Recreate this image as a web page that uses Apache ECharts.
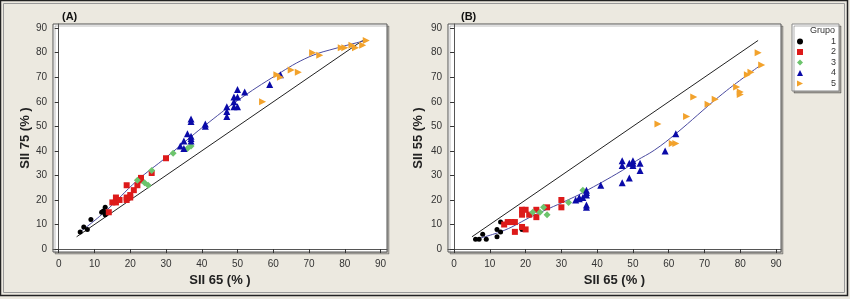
<!DOCTYPE html>
<html><head><meta charset="utf-8">
<script src="https://cdn.jsdelivr.net/npm/echarts@6/dist/echarts.min.js"></script>
<style>html,body{margin:0;padding:0;background:#ECE9E0}#c{width:850px;height:299px}</style>
</head><body><div id="c"></div>
<script>
const ticks = [0,10,20,30,40,50,60,70,80,90];
const groupNames = ['1','2','3','4','5'];
const groupColors = ['#000000','#DD1A1A','#6CC46C','#0A0AA8','#F2A22C'];
const groupSymbols = ['circle','rect','diamond','triangle','path://M0,0L10,5L0,10Z'];
const groupSizes = [5,6,7,7,7];

// Panel A: SII 65 vs SII 75
const a1 = [[6,7],[7,9],[8,8],[9,12],[12,15],[13,17],[13,15],[13,14],[12.5,15.5]];
const a2 = [[14,15],[15,19],[16,19],[16,21],[17,20],[19,26],[19,20],[19,21],[20,21],[20,22],[21,24],[22,26],[23,29],[23,28],[26,31],[30,37]];
const a3 = [[22,28],[24,27],[25,26],[26,32],[32,39],[36,41],[37,42]];
const a4 = [[34,42],[35,41],[35,44],[37,44],[37,45],[37,46],[36,47],[37,52],[37,53],[41,51],[41,50],[47,54],[47,56],[47,58],[49,58],[50,58],[49,60],[49,62],[50,62],[50,65],[52,64],[59,67],[62,71]];
const a5 = [[57,60],[61,71],[62,70],[65,73],[67,72],[71,80],[73,79],[79,82],[80,82],[82,83],[83,82],[85,83],[86,85]];
const aFit = [[6,7],[13,15.3],[22,28],[30,37.3],[37,45.8],[41,50.5],[50,60.5],[61,71],[70,78.3],[78,82],[86,85]];
const aIdentity = [[5,5],[85,85]];

// Panel B: SII 65 vs SII 55
const b1 = [[6,4],[7,4],[8,6],[9,4],[12,8],[13,7],[12,5],[13,11],[19,8]];
const b2 = [[14,10],[15,11],[16,11],[17,11],[17,7],[19,16],[20,16],[19,14],[19,9],[20,8],[21,14],[23,16],[23,13],[26,17],[30,20],[30,17]];
const b3 = [[22,15],[24,15],[25,17],[26,14],[32,19],[36,24]];
const b4 = [[34,20],[35,21],[35,20.5],[36,21],[37,24],[37,23],[37,22],[37,18],[37,17],[41,26],[47,36],[47,34],[47,27],[49,35],[49,29],[50,36],[50,35],[50,34],[52,35],[52,32],[59,40],[62,47]];
const b5 = [[57,51],[61,43],[62,43],[65,54],[67,62],[71,59],[73,61],[79,66],[80,64],[80,63],[82,71],[83,72],[85,80],[86,75]];
const bFit = [[6,4],[14,7.6],[22,13.5],[31.5,19.8],[36,23],[47,32],[51,36],[56,40.3],[62,47],[74,62],[82,71],[86,75.2]];
const bIdentity = [[5,5],[85,85]];

const xTitle = 'SII 65 (% )';
const yTitleA = 'SII 75 (% )';
const yTitleB = 'SII 55 (% )';
const panelTitles = ['(A)','(B)'];
const legendTitle = 'Grupo';

const FONT = 'Liberation Sans';
function xAx(gi, min, max){
  return {type:'value', gridIndex:gi, min:min, max:max,
    axisLine:{show:true, lineStyle:{color:'#555', width:1}},
    axisTick:{show:true, length:4, inside:false, customValues:ticks, lineStyle:{color:'#333'}},
    axisLabel:{customValues:ticks, fontSize:10, color:'#333', margin:7, fontFamily:FONT},
    splitLine:{show:false},
    name:xTitle, nameLocation:'middle', nameGap:19,
    nameTextStyle:{fontSize:13, fontWeight:'bold', color:'#222', fontFamily:FONT}};
}
function yAx(gi, min, max, name, gap){
  return {type:'value', gridIndex:gi, min:min, max:max,
    axisLine:{show:true, lineStyle:{color:'#555', width:1}},
    axisTick:{show:true, length:4, inside:false, customValues:ticks, lineStyle:{color:'#333'}},
    axisLabel:{customValues:ticks, fontSize:10, color:'#333', margin:6, fontFamily:FONT},
    splitLine:{show:false},
    name:name, nameLocation:'middle', nameGap:gap,
    nameTextStyle:{fontSize:13, fontWeight:'bold', color:'#222', fontFamily:FONT}};
}
const series = [];
function addPanel(gi, groups, fit, ident){
  series.push({type:'line', xAxisIndex:gi, yAxisIndex:gi, data:ident, showSymbol:false, symbol:'none',
    lineStyle:{color:'#222', width:1}, z:2, silent:true});
  series.push({type:'line', xAxisIndex:gi, yAxisIndex:gi, data:fit, showSymbol:false, symbol:'none', smooth:0.4,
    lineStyle:{color:'#4A4AA0', width:1}, z:2, silent:true});
  groups.forEach((g,i)=>{
    series.push({type:'scatter', name:groupNames[i], xAxisIndex:gi, yAxisIndex:gi, data:g,
      symbol:groupSymbols[i], symbolSize:groupSizes[i], itemStyle:{color:groupColors[i], opacity:1}, z:3});
  });
}
addPanel(0,[a1,a2,a3,a4,a5],aFit,aIdentity);
addPanel(1,[b1,b2,b3,b4,b5],bFit,bIdentity);

const chart = echarts.init(document.getElementById('c'), null, {renderer:'canvas'});
chart.setOption({
  backgroundColor:'#ECE9E0',
  animation:false,
  textStyle:{fontFamily:FONT},
  title:[
    {text:panelTitles[0], left:62, top:11, textStyle:{fontSize:11, fontWeight:'bold', color:'#111', fontFamily:FONT}, padding:0},
    {text:panelTitles[1], left:461, top:11, textStyle:{fontSize:11, fontWeight:'bold', color:'#111', fontFamily:FONT}, padding:0},
    {text:legendTitle, left:810, top:26, textStyle:{fontSize:9, fontWeight:'normal', color:'#333', fontFamily:FONT}, padding:0, z:10}
  ],
  legend:{data:groupNames, orient:'vertical', left:792, top:24, padding:[13,3,3,5], itemGap:1.5,
    itemWidth:6, itemHeight:6, backgroundColor:'#fff', borderColor:'#888', borderWidth:1,
    shadowColor:'rgba(0,0,0,0.3)', shadowOffsetX:2, shadowOffsetY:2, shadowBlur:0,
    formatter:'{a|{name}}',
    textStyle:{fontSize:9, color:'#333', fontFamily:FONT, rich:{a:{width:28, align:'right', fontSize:9, color:'#333', fontFamily:FONT}}},
    selectedMode:false},
  grid:[
    {left:53, top:24, width:334, height:228, show:true, backgroundColor:'#fff', borderColor:'#555', borderWidth:1,
      shadowColor:'rgba(0,0,0,0.25)', shadowOffsetX:2, shadowOffsetY:2, shadowBlur:0},
    {left:448, top:24, width:333, height:228, show:true, backgroundColor:'#fff', borderColor:'#555', borderWidth:1,
      shadowColor:'rgba(0,0,0,0.25)', shadowOffsetX:2, shadowOffsetY:2, shadowBlur:0}
  ],
  xAxis:[xAx(0,-1.6,91.8), xAx(1,-1.7,91.4)],
  yAxis:[yAx(0,-1.2,91.7,yTitleA,21), yAx(1,-1.2,91.7,yTitleB,23)],
  graphic:[
    {type:'rect', shape:{x:0.5,y:0.5,width:847,height:295}, style:{fill:'none', stroke:'#222', lineWidth:1.5}, silent:true},
    {type:'rect', shape:{x:3.5,y:3.5,width:841,height:289}, style:{fill:'none', stroke:'#999', lineWidth:1}, silent:true}
  ],
  series:series
});
</script></body></html>
